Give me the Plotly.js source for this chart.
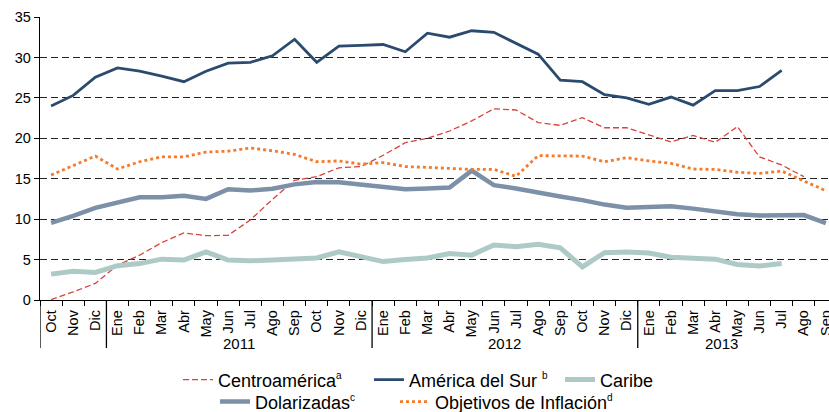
<!DOCTYPE html>
<html>
<head>
<meta charset="utf-8">
<script src="https://cdn.plot.ly/plotly-3.0.1.min.js"></script>
<style>
html,body{margin:0;padding:0;overflow:hidden;background:#fff;}
#chart{width:837px;height:430px;}
</style>
</head>
<body>
<div id="chart"></div>
<script>
const months = ["Oct","Nov","Dic",
  "Ene","Feb","Mar","Abr","May","Jun","Jul","Ago","Sep","Oct","Nov","Dic",
  "Ene","Feb","Mar","Abr","May","Jun","Jul","Ago","Sep","Oct","Nov","Dic",
  "Ene","Feb","Mar","Abr","May","Jun","Jul","Ago","Sep"];
const years = ["2011","2012","2013"];

const centroamerica = [0.05,1.0,2.05,4.3,5.55,7.1,8.3,7.95,8.0,9.9,12.45,14.8,15.25,16.35,16.5,
  17.9,19.45,20.0,20.9,22.15,23.65,23.5,21.95,21.6,22.55,21.3,21.3,
  20.45,19.55,20.35,19.5,21.45,17.7,16.7,15.25,null];
const americaSur = [24.0,25.3,27.55,28.7,28.3,27.7,27.0,28.3,29.3,29.4,30.2,32.25,29.4,31.4,31.5,
  31.6,30.7,33.0,32.5,33.3,33.1,31.7,30.4,27.2,27.0,25.4,25.0,
  24.2,25.1,24.1,25.9,25.9,26.4,28.4,null,null];
const caribe = [3.2,3.55,3.4,4.25,4.5,5.05,4.95,5.95,4.95,4.85,4.95,5.15,5.2,5.95,5.35,
  4.75,5.0,5.2,5.75,5.55,6.8,6.6,6.9,6.45,4.1,5.85,5.95,
  5.8,5.3,5.2,5.05,4.4,4.2,4.5,null,null];
const dolarizadas = [9.55,10.4,11.4,12.1,12.7,12.7,12.9,12.5,13.7,13.55,13.75,14.3,14.6,14.55,14.3,
  14.0,13.7,13.8,13.9,16.0,14.2,13.8,13.25,12.8,12.35,11.8,11.4,
  11.5,11.6,11.3,10.9,10.6,10.45,10.45,10.5,9.5];
const objetivos = [15.45,16.6,17.8,16.2,17.1,17.7,17.7,18.3,18.4,18.8,18.45,18.0,17.1,17.2,16.8,
  17.0,16.5,16.4,16.3,16.15,16.15,15.3,17.85,17.8,17.8,17.1,17.6,
  17.2,16.9,16.2,16.15,15.8,15.65,15.95,14.7,13.5];

const idx = months.map((m,i)=>i);
const FONT = "Liberation Sans, Arial, sans-serif";
function sup(t){ return '<sup><span style="font-size:10px">' + t + '</span></sup>'; }

const traces = [
  {x:idx,y:centroamerica,name:"Centroamérica" + sup("a"),mode:"lines",legend:"legend",
   line:{color:"#D9433B",width:1.3,dash:"6px,3px"}},
  {x:idx,y:americaSur,name:"América del Sur " + sup("b"),mode:"lines",legend:"legend",
   line:{color:"#2B4B6E",width:2.8}},
  {x:idx,y:caribe,name:"Caribe",mode:"lines",legend:"legend",
   line:{color:"#AECAC6",width:5}},
  {x:idx,y:dolarizadas,name:"Dolarizadas" + sup("c"),mode:"lines",legend:"legend2",
   line:{color:"#7C90A7",width:4.5}},
  {x:idx,y:objetivos,name:"Objetivos de Inflación" + sup("d"),mode:"lines",legend:"legend3",
   line:{color:"#F37B2B",width:2.8,dash:"dot"}}
];

const H = 430, TOP = 16.7, BOTTOM = 300;
const plotH = BOTTOM - TOP;
function py(pix){ return (BOTTOM - pix)/plotH; }
function px(pix){ return (pix - 40)/797; }

const shapes = [];
[-0.5, 2.5, 14.5, 26.5].forEach(v=>{
  shapes.push({type:"line",xref:"x",yref:"paper",x0:v,x1:v,y0:0,y1:py(348),
    line:{color:"#000",width:1.3}});
});

const yearPos = [8.5, 20.5, 30.3];
const annotations = years.map((t,i)=>({
  text:t,x:yearPos[i],xref:"x",y:py(344),yref:"paper",showarrow:false,
  xanchor:"center",yanchor:"middle",font:{family:FONT,size:15,color:"#000"}
}));

const legBase = {orientation:"h",xanchor:"left",yanchor:"middle",
  font:{family:FONT,size:18,color:"#000"},bgcolor:"rgba(0,0,0,0)",
  itemwidth:30,traceorder:"normal"};

const layout = {
  width:837,height:H,
  margin:{l:40,r:0,t:TOP,b:H-BOTTOM},
  paper_bgcolor:"#fff",plot_bgcolor:"#fff",
  font:{family:FONT,color:"#000"},
  xaxis:{
    range:[-0.5,35.5],tickmode:"array",tickvals:idx,ticktext:months,
    tickangle:-90,ticks:"outside",ticklen:3,tickcolor:"rgba(0,0,0,0)",showgrid:false,zeroline:false,
    showline:true,linecolor:"#000",linewidth:1.3,
    tickfont:{family:FONT,size:14.5,color:"#000"},
    minor:{ticks:"outside",tick0:-0.5,dtick:1,ticklen:5,tickcolor:"#000",tickwidth:1,showgrid:false}
  },
  yaxis:{
    range:[0,35],dtick:5,tick0:0,showgrid:true,gridcolor:"#222",gridwidth:1,
    griddash:"7px,4px",zeroline:false,showline:true,linecolor:"#000",linewidth:1.3,
    ticks:"outside",ticklen:5,tickcolor:"#000",
    tickfont:{family:FONT,size:14.5,color:"#000"}
  },
  showlegend:true,
  legend:Object.assign({},legBase,{x:px(178),y:py(380),entrywidth:146,entrywidthmode:"pixels"}),
  legend2:Object.assign({},legBase,{x:px(215),y:py(402)}),
  legend3:Object.assign({},legBase,{x:px(395),y:py(402)}),
  shapes:shapes,
  annotations:annotations
};

Plotly.newPlot("chart",traces,layout,{displayModeBar:false,staticPlot:true});
</script>
</body>
</html>
